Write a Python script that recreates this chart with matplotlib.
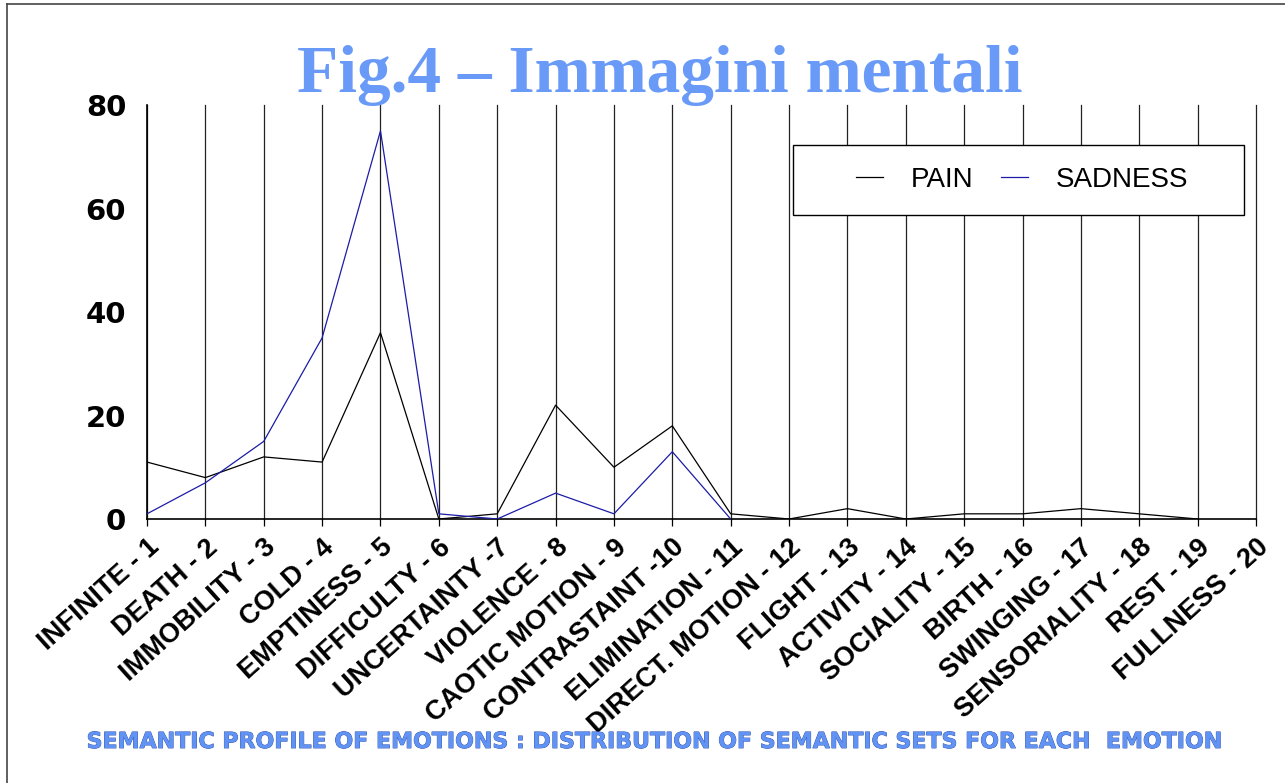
import numpy as np
import matplotlib
matplotlib.use('Agg')
import matplotlib.pyplot as plt
from matplotlib.lines import Line2D
from matplotlib.patches import Rectangle
import matplotlib.patheffects as pe

categories = ['INFINITE - 1', 'DEATH - 2', 'IMMOBILITY - 3', 'COLD - 4', 'EMPTINESS - 5',
              'DIFFICULTY - 6', 'UNCERTAINTY -7', 'VIOLENCE - 8', 'CAOTIC MOTION - 9',
              'CONTRASTAINT -10', 'ELIMINATION - 11', 'DIRECT. MOTION - 12', 'FLIGHT - 13',
              'ACTIVITY - 14', 'SOCIALITY - 15', 'BIRTH - 16', 'SWINGING - 17',
              'SENSORIALITY - 18', 'REST - 19', 'FULLNESS - 20']
pain = [11, 8, 12, 11, 36, 0, 1, 22, 10, 18, 1, 0, 2, 0, 1, 1, 2, 1, 0, np.nan]
sadness = [1, 7, 15, 35, 75, 1, 0, 5, 1, 13, 0] + [np.nan] * 9
yticks = [0, 20, 40, 60, 80]

x = np.arange(1, len(categories) + 1)

fig = plt.figure(figsize=(12.85, 7.83), dpi=100)
ax = fig.add_axes([147 / 1285, 1 - 519 / 783, (1256 - 147) / 1285, (519 - 105) / 783])

# vertical grid lines at each category
for xi in x:
    ax.axvline(xi, color='#222222', lw=0.9, zorder=1, clip_on=False)

ax.plot(x, pain, color='black', lw=0.9, label='PAIN', zorder=3)
ax.plot(x, sadness, color='#1c1ca8', lw=0.9, label='SADNESS', zorder=3)

ax.set_xlim(1, 20)
ax.set_ylim(0, 80)
ax.set_yticks(yticks)
ax.set_yticklabels([str(v) for v in yticks], fontsize=21, fontweight='bold',
                   family='DejaVu Sans')
ax.tick_params(axis='y', length=0, pad=15)
ax.set_xticks(x)
ax.set_xticklabels(categories, rotation=42, ha='right', rotation_mode='anchor',
                   fontsize=19.5, fontweight='bold', family='Liberation Sans')
ax.tick_params(axis='x', length=5, width=0.9, direction='out', pad=6)

for s in ['top', 'right']:
    ax.spines[s].set_visible(False)
ax.spines['left'].set_linewidth(1.2)
ax.spines['bottom'].set_linewidth(1.2)

# legend box drawn by hand, entries placed inside it
ax.add_patch(Rectangle((0.5825, 0.7343), 0.4067, 0.169, transform=ax.transAxes,
                       facecolor='white', edgecolor='black', lw=1.0, zorder=4, clip_on=False))
leg = ax.legend(loc='center left', bbox_to_anchor=(0.6393, 0.8188), ncol=2, frameon=False,
                handlelength=0.97, handletextpad=1.0, columnspacing=1.0,
                borderpad=0, borderaxespad=0,
                prop={'family': 'Liberation Sans', 'size': 20})
leg.set_zorder(5)

fig.text(660 / 1285, 1 - 92 / 783, 'Fig.4 \u2013 Immagini mentali', ha='center', va='baseline',
         fontsize=48.5, fontweight='bold', family='Liberation Serif', color='#6a9af8')

fig.text(655 / 1285, 1 - 742 / 783,
         'SEMANTIC PROFILE OF EMOTIONS : DISTRIBUTION OF SEMANTIC SETS FOR EACH  EMOTION',
         ha='center', va='center', fontsize=15.9, fontweight='bold', family='DejaVu Sans',
         color='#6193f5',
         path_effects=[pe.withStroke(linewidth=0.6, foreground='#3050a8')])

# frame around the slide
fig.add_artist(Line2D([7 / 1285, 7 / 1285], [0, 1 - 4 / 783], transform=fig.transFigure,
                      color='#444444', lw=1.2))
fig.add_artist(Line2D([7 / 1285, 1], [1 - 4 / 783, 1 - 4 / 783], transform=fig.transFigure,
                      color='#444444', lw=1.2))

fig.savefig('out.png', dpi=100)
